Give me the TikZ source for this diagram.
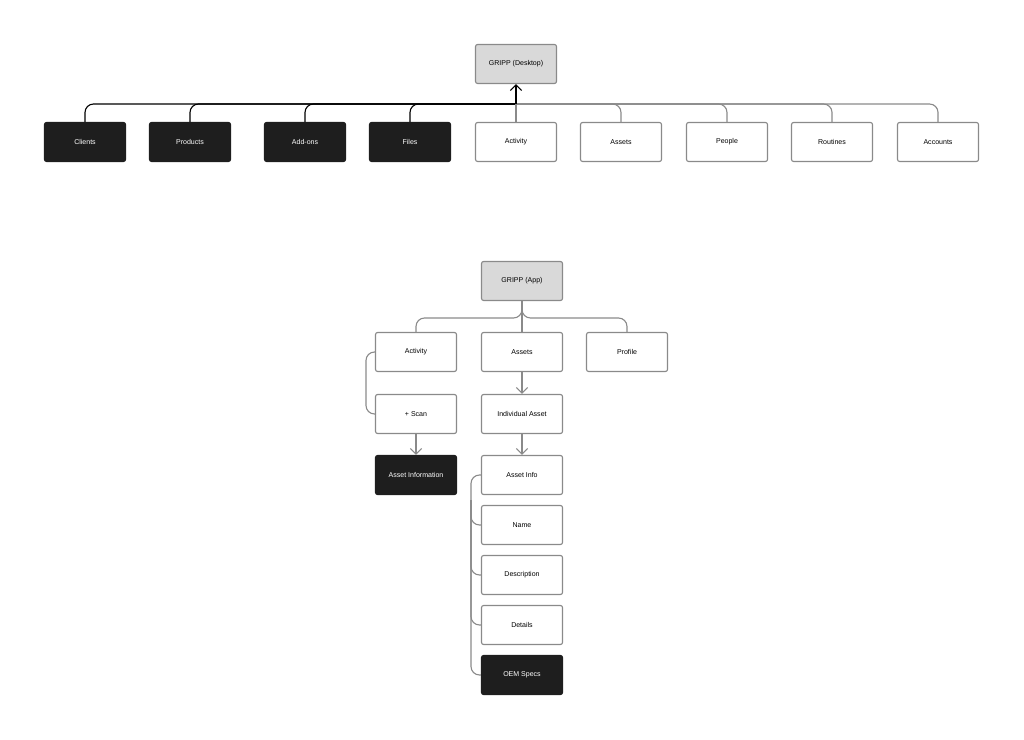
\documentclass[tikz,border=0pt]{standalone}
\usepackage{fontspec}
\setsansfont{Liberation Sans}
\usetikzlibrary{arrows.meta}
\definecolor{box_dark}{HTML}{1E1E1E}
\definecolor{box_grey}{HTML}{D9D9D9}
\definecolor{line_grey}{HTML}{8A8A8A}

\begin{document}
\begin{tikzpicture}[x=0.025cm, y=-0.025cm,
    page/.style={draw=line_grey, thick, fill=white, rounded corners=1.5pt,
      minimum width=81*0.025cm, minimum height=39*0.025cm, inner sep=0pt,
      font=\sffamily\fontsize{5}{6}\selectfont},
    dark/.style={page, fill=box_dark, draw=box_dark, text=white},
    root/.style={page, fill=box_grey},
    link/.style={line_grey, thick, rounded corners=6pt},
    darklink/.style={black, thick, rounded corners=6pt},
    tip/.style={-{Straight Barb[length=4pt,width=8pt]}}]
    % Page background fixes the frame
    \useasboundingbox (0,0) rectangle (1024,740);

    % Desktop tree
    \node[root] (desk) at (516,64) {GRIPP (Desktop)};
    \foreach \name/\x/\txt in {clients/85/Clients, products/190/Products,
        addons/305/Add-ons, files/410/Files} {
      \node[dark] (\name) at (\x,142) {\txt};
      \draw[darklink] (\name.north) |- (516,104);
    }
    \foreach \name/\x/\txt in {people/727/People, routines/832/Routines,
        accounts/938/Accounts, assetsD/621/Assets} {
      \node[page] (\name) at (\x,142) {\txt};
      \draw[link] (\name.north) |- (516,104);
    }
    \node[page] (activityD) at (516,142) {Activity};
    \draw[link] (activityD.north) -- (516,104);
    \draw[black, thick, tip] (516,104) -- (desk.south);

    % App tree
    \node[root] (app) at (522,281) {GRIPP (App)};
    \node[page] (activity) at (416,352) {Activity};
    \node[page] (assets) at (522,352) {Assets};
    \node[page] (profile) at (627,352) {Profile};
    \draw[link] (app.south) -- (assets.north);
    \draw[link] (app.south) |- (416,318) -- (activity.north);
    \draw[link] (app.south) |- (627,318) -- (profile.north);

    \node[page] (scan) at (416,414) {+ Scan};
    \node[dark] (assetinfo) at (416,475) {Asset Information};
    \draw[link] (activity.west) -| (366,395) |- (scan.west);
    \draw[link, tip] (scan.south) -- (assetinfo.north);

    \node[page] (individual) at (522,414) {Individual Asset};
    \node[page] (info) at (522,475) {Asset Info};
    \draw[link, tip] (assets.south) -- (individual.north);
    \draw[link, tip] (individual.south) -- (info.north);

    \node[page] (name) at (522,525) {Name};
    \node[page] (description) at (522,575) {Description};
    \node[page] (details) at (522,625) {Details};
    \node[dark] (oem) at (522,675) {OEM Specs};
    \draw[link] (info.west) -| (471,600) |- (oem.west);
    \foreach \item in {name, description, details}
      \draw[link] (471,500) |- (\item.west);
\end{tikzpicture}
\end{document}
